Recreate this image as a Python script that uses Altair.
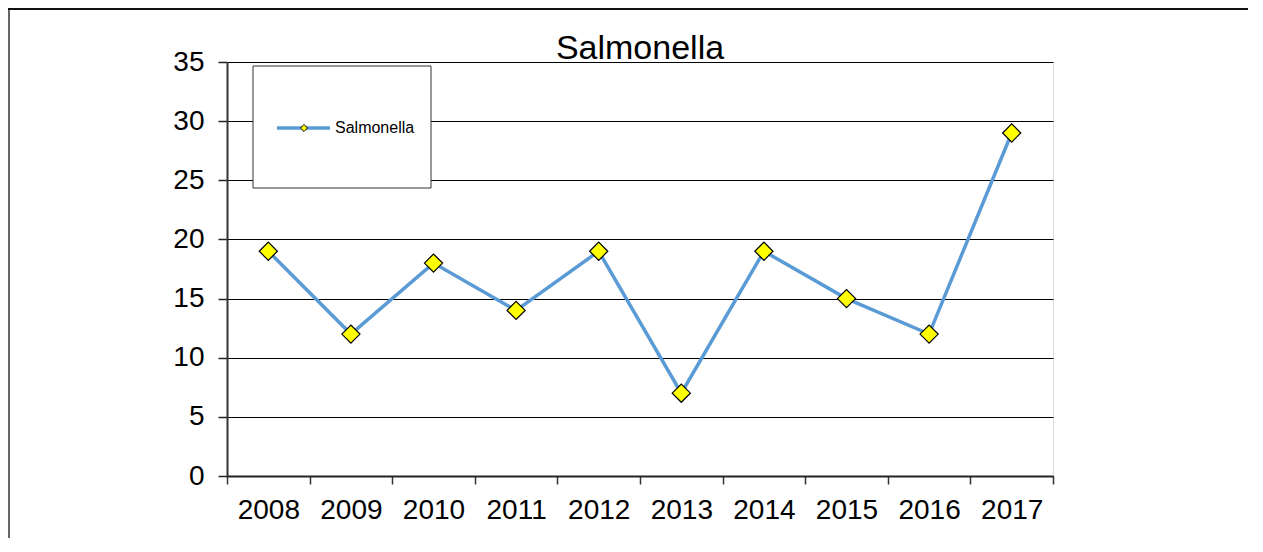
import altair as alt
import pandas as pd

# ---- data ----
years = ["2008", "2009", "2010", "2011", "2012", "2013", "2014", "2015", "2016", "2017"]
salmonella = [19, 12, 18, 14, 19, 7, 19, 15, 12, 29]
series_name = "Salmonella"
chart_title = "Salmonella"
y_ticks = [0, 5, 10, 15, 20, 25, 30, 35]

df = pd.DataFrame({"year": years, "value": salmonella})

W, H = 826, 414
FONT = "Liberation Sans"
LINE_COLOR = "#5B9BD5"

x_enc = alt.X(
    "year:O",
    sort=years,
    bandPosition=0.5,
    scale=alt.Scale(type="band", paddingInner=0, paddingOuter=0),
    axis=alt.Axis(
        title=None, grid=False, tickBand="extent", labelAngle=0,
        tickSize=8, tickColor="#333", tickWidth=1.5,
        domainColor="#222", domainWidth=2,
        labelFontSize=28, labelPadding=12, labelFont=FONT, labelColor="#000",
    ),
)
y_enc = alt.Y(
    "value:Q",
    scale=alt.Scale(domain=[0, 35], nice=False, zero=True),
    axis=alt.Axis(
        title=None, values=y_ticks, grid=True, gridColor="#000", gridWidth=1,
        tickSize=9, tickColor="#222", tickWidth=1.5,
        domainColor="#333", domainWidth=2,
        labelFontSize=28, labelPadding=14, labelFont=FONT, labelColor="#000",
    ),
)

base = alt.Chart(df)

line = base.mark_line(color=LINE_COLOR, strokeWidth=3.5).encode(x=x_enc, y=y_enc)
points = base.mark_point(
    shape="diamond", filled=True, fill="#FFFF00", stroke="#000",
    strokeWidth=1.2, size=330, opacity=1,
).encode(x=x_enc, y=y_enc)

lab = alt.Chart(pd.DataFrame({"label": [series_name], "title": [chart_title]}))

# outer chart frame (only left and top edges fall inside the window)
frame_left = lab.mark_rule(color="#666", strokeWidth=2).encode(
    x=alt.value(-218), y=alt.value(-54), y2=alt.value(476)
)
frame_top = lab.mark_rule(color="#111", strokeWidth=2).encode(
    x=alt.value(-219), x2=alt.value(1021), y=alt.value(-53)
)

# title
title = lab.mark_text(
    font=FONT, fontSize=34, align="center", baseline="alphabetic", color="#000"
).encode(x=alt.value(W / 2), y=alt.value(-3), text="title:N")

# legend box
leg_box = lab.mark_rect(fill="#fff", stroke="#333", strokeWidth=1).encode(
    x=alt.value(26), x2=alt.value(204), y=alt.value(4), y2=alt.value(126)
)
leg_line = lab.mark_rule(color=LINE_COLOR, strokeWidth=3.5).encode(
    x=alt.value(50), x2=alt.value(103), y=alt.value(66)
)
leg_pt = lab.mark_point(
    shape="diamond", filled=True, fill="#FFFF00", stroke="#000",
    strokeWidth=1, size=50, opacity=1,
).encode(x=alt.value(77), y=alt.value(66))
leg_text = lab.mark_text(
    font=FONT, fontSize=16, align="left", baseline="middle", color="#000"
).encode(x=alt.value(108), y=alt.value(66), text="label:N")

chart = (
    alt.layer(frame_left, frame_top, line, points, leg_box, leg_line, leg_pt, leg_text, title)
    .properties(
        width=W, height=H,
        autosize=alt.AutoSizeParams(type="none"),
        padding={"left": 219, "top": 54, "right": 195, "bottom": 62},
    )
    .configure_view(stroke="#808080", strokeWidth=2)
    .configure(background="#ffffff")
)

chart.save("out.html", embed_options={"renderer": "svg", "actions": False})
